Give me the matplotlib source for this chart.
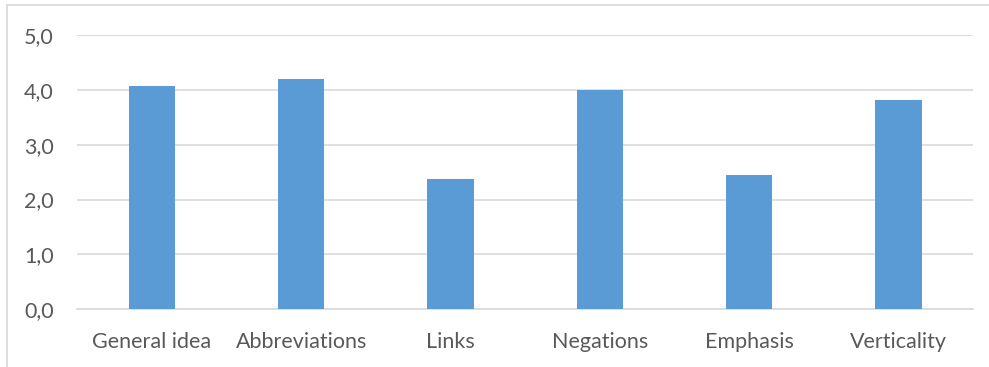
import matplotlib
matplotlib.use('Agg')
from matplotlib import pyplot as plt
from matplotlib.patches import Rectangle

categories = ['General idea', 'Abbreviations', 'Links', 'Negations', 'Emphasis', 'Verticality']
scores = [4.06, 4.19, 2.37, 4.00, 2.44, 3.82]
y_ticks = [0, 1, 2, 3, 4, 5]
y_tick_labels = ['0,0', '1,0', '2,0', '3,0', '4,0', '5,0']

plt.rcParams['font.family'] = ['Lato', 'DejaVu Sans']

fig = plt.figure(figsize=(9.89, 3.67), dpi=100)
ax = fig.add_axes([0.078, 0.157, 0.906, 0.748])

x = list(range(len(categories)))
ax.bar(x, scores, width=0.31, color='#5b9bd5', zorder=3)

ax.set_xlim(-0.5, len(categories) - 0.5)
ax.set_ylim(0, 5)
ax.set_yticks(y_ticks)
ax.set_yticklabels(y_tick_labels)
ax.set_xticks(x)
ax.set_xticklabels(categories)

ax.grid(axis='y', color='#d9d9d9', linewidth=1.2, zorder=0)
ax.tick_params(axis='both', length=0, labelsize=15.5, colors='#595959')
ax.tick_params(axis='y', pad=17)
ax.tick_params(axis='x', pad=16)
for side in ['top', 'right', 'left']:
    ax.spines[side].set_visible(False)
ax.spines['bottom'].set_color('#d9d9d9')
ax.spines['bottom'].set_linewidth(1.2)

# chart area border
fig.patches.append(Rectangle((7 / 989, -0.1), 1.2, 1.1 - 5 / 367, transform=fig.transFigure,
                             fill=False, edgecolor='#d9d9d9', linewidth=1.2))

fig.savefig('out.png', dpi=100)
